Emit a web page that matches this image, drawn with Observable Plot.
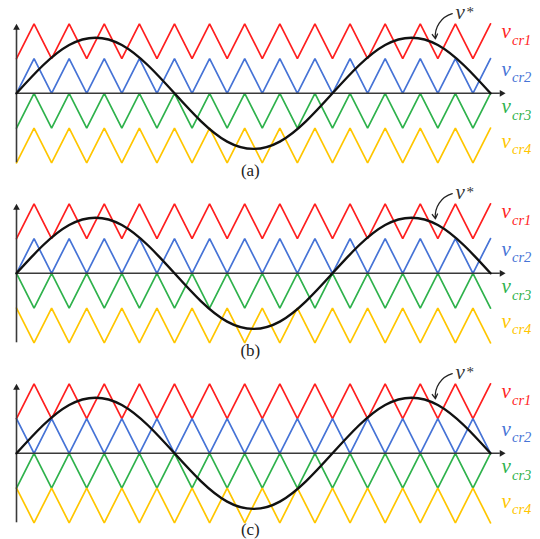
<!DOCTYPE html>
<html><head><meta charset="utf-8">
<script src="https://cdn.jsdelivr.net/npm/d3@7"></script>
<script src="https://cdn.jsdelivr.net/npm/@observablehq/plot@0.6"></script>
<style>
html,body{margin:0;padding:0;background:#fff;}
#chart{width:540px;}
#chart svg{display:block;}
</style></head><body><div id="chart"></div>
<script>
// ---- data ----
const panelLabels = ["(a)", "(b)", "(c)"];
const captionT = 6.66;
const captionLevels = [-2.38, -2.38, -2.36];
const carrierNames = ["cr1", "cr2", "cr3", "cr4"];
const carrierLow = [1, 0, -1, -2];          // lower level of each carrier band
const phaseA = [0, 0, 0, 0];                // 0 = starts at valley, 1 = starts at peak
const phaseB = [0, 0, 1, 1];
const phaseC = [0, 1, 0, 1];
const carrierHalfPeriods = 27;              // 13.5 carrier periods over the span
const refT = [0, 0.75, 1.5, 2.25, 3, 3.75, 4.5, 5.25, 6, 6.75, 7.5, 8.25, 9, 9.75, 10.5, 11.25, 12, 12.75, 13.5];
const refV = [0, 0.8, 1.39, 1.6, 1.39, 0.8, 0, -0.8, -1.39, -1.6, -1.39, -0.8, 0, 0.8, 1.39, 1.6, 1.39, 0.8, 0];
const labelLevels = [1.58, 0.51, -0.58, -1.57];
const labelT = 13.5;
const vStarAt = [12.5, 2.15];
const vStarArrow = [12.41, 2.29, 11.93, 1.57];
const axisEnds = [13.93, 2, -2];

// ---- styles ----
const carrierColors = ["#ff1f1f", "#4673d6", "#2fb24c", "#ffc600"];
const serif = "Liberation Serif, DejaVu Serif, serif";

function panel(phase, label, captionLevel, height) {
  const rows = [];
  carrierNames.forEach((name, i) => {
    for (let k = 0; k <= carrierHalfPeriods; k++) {
      rows.push({name, t: k / 2, v: carrierLow[i] + ((k + phase[i]) % 2)});
    }
  });
  const ref = refT.map((t, i) => ({t, v: refV[i]}));
  const labels = carrierNames.map((name, i) => ({name, t: labelT, v: labelLevels[i]}));
  return Plot.plot({
    width: 540,
    height,
    margin: 0,
    x: {domain: [0, 13.5], range: [16, 490], axis: null},
    y: {domain: [-2, 2], range: [162.3, 23.3], axis: null},
    color: {domain: carrierNames, range: carrierColors},
    marks: [
      Plot.line(rows, {x: "t", y: "v", z: "name", stroke: "name", strokeWidth: 1.7, strokeLinejoin: "miter"}),
      Plot.ruleY([0], {x1: 0, x2: axisEnds[0] - 0.15, stroke: "#3a3a3a", strokeWidth: 1.6}),
      Plot.ruleX([0], {y1: axisEnds[2], y2: axisEnds[1] - 0.15, stroke: "#3a3a3a", strokeWidth: 1.6}),
      Plot.dot([0], {x: () => axisEnds[0], y: () => 0, symbol: "triangle", rotate: 90, r: 2.5, fill: "#222", stroke: "none", dx: -3.9}),
      Plot.dot([0], {x: () => 0, y: () => axisEnds[1], symbol: "triangle", rotate: 0, r: 2.5, fill: "#222", stroke: "none", dy: 3.9}),
      Plot.line(ref, {x: "t", y: "v", curve: "natural", stroke: "#111", strokeWidth: 2.4}),
      Plot.text(labels, {x: "t", y: "v", text: () => "v", fill: "name", dx: 11, fontSize: 21, fontStyle: "italic", fontFamily: serif, textAnchor: "start", lineAnchor: "bottom"}),
      Plot.text(labels, {x: "t", y: "v", text: "name", fill: "name", dx: 21.5, dy: 6.5, fontSize: 14.5, fontStyle: "italic", fontFamily: serif, textAnchor: "start", lineAnchor: "bottom"}),
      Plot.text([0], {x: () => vStarAt[0], y: () => vStarAt[1], text: () => "v", fill: "#333", fontSize: 21, fontStyle: "italic", fontFamily: serif, textAnchor: "start", lineAnchor: "bottom"}),
      Plot.text([0], {x: () => vStarAt[0], y: () => vStarAt[1], text: () => "*", fill: "#333", dx: 11, dy: -2, fontSize: 15, fontFamily: serif, textAnchor: "start", lineAnchor: "bottom"}),
      Plot.arrow([0], {x1: () => vStarArrow[0], y1: () => vStarArrow[1], x2: () => vStarArrow[2], y2: () => vStarArrow[3], bend: -40, stroke: "#222", strokeWidth: 1.3, headLength: 6}),
      Plot.text([label], {x: () => captionT, y: () => captionLevel, text: d => d, fontSize: 17, fontFamily: serif, fill: "#222", lineAnchor: "bottom"})
    ]
  });
}

const root = document.getElementById("chart");
root.append(panel(phaseA, panelLabels[0], captionLevels[0], 180));
root.append(panel(phaseB, panelLabels[1], captionLevels[1], 180));
root.append(panel(phaseC, panelLabels[2], captionLevels[2], 179));
</script>
</body></html>
